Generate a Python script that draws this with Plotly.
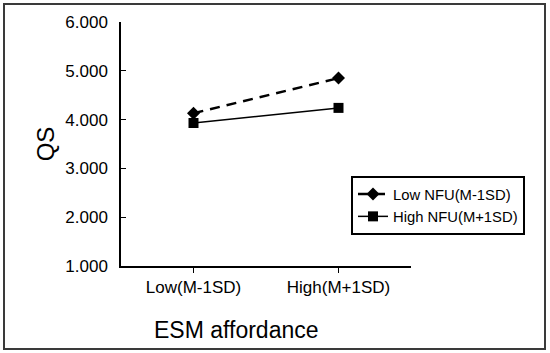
import plotly.graph_objects as go

categories = ["Low(M-1SD)", "High(M+1SD)"]
low_nfu = [4.13, 4.85]
high_nfu = [3.93, 4.24]
y_ticks = [1, 2, 3, 4, 5, 6]
y_tick_labels = ["1.000", "2.000", "3.000", "4.000", "5.000", "6.000"]

W, H = 550, 353
L, R, T, B = 121, 139, 22, 87
pw, ph = W - L - R, H - T - B

def px(x):
    return (x - L) / pw

def py(y):
    return (H - B - y) / ph

FONT = "Arial, Liberation Sans, sans-serif"

fig = go.Figure()
fig.add_trace(go.Scatter(
    x=[0, 1], y=low_nfu, mode="lines+markers", name="Low NFU(M-1SD)",
    line=dict(color="black", width=2.5, dash="10px,7px"),
    marker=dict(symbol="diamond", size=10, color="black"),
))
fig.add_trace(go.Scatter(
    x=[0, 1], y=high_nfu, mode="lines+markers", name="High NFU(M+1SD)",
    line=dict(color="black", width=1.5),
    marker=dict(symbol="square", size=10, color="black"),
))

fig.update_layout(
    width=W, height=H,
    margin=dict(l=L, r=R, t=T, b=B),
    paper_bgcolor="white", plot_bgcolor="white",
    font=dict(family=FONT, color="black"),
    showlegend=True,
    legend=dict(
        x=px(351), y=py(176), xanchor="left", yanchor="top",
        bordercolor="black", borderwidth=2, bgcolor="white",
        font=dict(size=14.8, family=FONT), tracegroupgap=2,
    ),
    xaxis=dict(
        range=[-0.5, 1.5], tickvals=[0, 1], ticktext=categories,
        showline=True, linecolor="black", linewidth=1.5,
        ticks="outside", ticklen=5, tickcolor="black",
        showgrid=False, zeroline=False,
        tickfont=dict(size=17, family=FONT),
        fixedrange=True,
    ),
    yaxis=dict(
        range=[1, 6], tickvals=y_ticks, ticktext=y_tick_labels,
        showline=True, linecolor="black", linewidth=1.5,
        ticks="inside", ticklen=5, tickcolor="black",
        showgrid=False, zeroline=False,
        tickfont=dict(size=17, family=FONT),
        ticklabelstandoff=8,
        title=dict(text="QS", font=dict(size=24, family=FONT), standoff=4),
        fixedrange=True,
    ),
)

fig.add_annotation(
    text="ESM affordance", xref="paper", yref="paper",
    x=px(236), y=py(330), xanchor="center", yanchor="middle",
    showarrow=False, font=dict(size=23, family=FONT),
)

fig.add_shape(
    type="rect", xref="paper", yref="paper",
    x0=px(4), x1=px(545), y0=py(349), y1=py(4),
    line=dict(color="#3a3a3a", width=2), layer="below",
)

fig.write_html("out.html", config={"displayModeBar": False},
               post_script="document.body.style.margin='0';")
